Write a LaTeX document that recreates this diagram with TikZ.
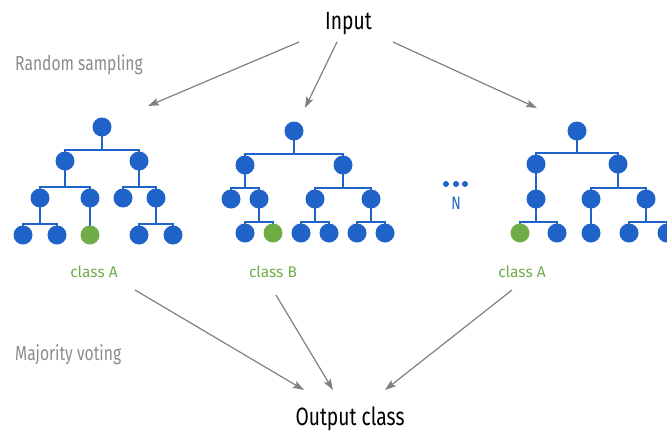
\documentclass[tikz,border=0pt]{standalone}
\usepackage{fontspec}
\setmainfont[FakeStretch=0.77]{Fira Sans}
\newfontfamily\labelfont[FakeStretch=1.0]{Fira Sans}
\usetikzlibrary{arrows.meta,backgrounds}
\definecolor{treeblue}{HTML}{1F63C8}
\definecolor{leafgreen}{HTML}{70AD47}
\definecolor{arrowgray}{HTML}{808080}
\definecolor{notegray}{HTML}{8C8C8C}
\tikzset{
  tnode/.style={circle,fill=treeblue,minimum size=19pt,inner sep=0pt},
  gnode/.style={tnode,fill=leafgreen},
  edge/.style={draw=treeblue,line width=1.6pt},
  flow/.style={draw=arrowgray,line width=1.2pt,-{Stealth[length=11pt,width=7.5pt,inset=2pt]}},
  title/.style={font=\fontsize{25}{27}\selectfont,text=black,inner sep=0pt,anchor=base},
  note/.style={font=\fontsize{20.3}{22}\selectfont,text=notegray,inner sep=0pt,anchor=base west},
  verdict/.style={font=\labelfont\fontsize{15.5}{17}\selectfont,text=leafgreen,inner sep=0pt,anchor=base},
}
% two-child fork: bar sits 11pt above the children
\newcommand{\forktwo}[3]{%
  \coordinate (#2bar) at ([yshift=11pt]#2.center);
  \draw[edge] (#1.center) -- (#1.center |- #2bar);
  \draw[edge] (#2.center) -- (#2bar) -| (#3.center);}
\newcommand{\forkone}[2]{\draw[edge] (#1.center) -- (#2.center);}
\begin{document}
\begin{tikzpicture}[x=1pt,y=-1pt]
\useasboundingbox (0,0) rectangle (667,432);

% labels
\node[title] (input) at (348.5,29.5) {Input};
\node[title] (output) at (350,425) {Output class};
\node[note] (sampling) at (15,70) {Random sampling};
\node[note] (voting) at (15,360) {Majority voting};
\node[verdict] (va) at (94,277) {class A};
\node[verdict] (vb) at (273,277) {class B};
\node[verdict] (vc) at (522,277) {class A};

% first tree
\node[tnode] (a0) at (102,127) {};
\node[tnode] (a1) at (65,161) {};
\node[tnode] (a2) at (139,161) {};
\node[tnode] (a3) at (40,198) {};
\node[tnode] (a4) at (90,198) {};
\node[tnode] (a5) at (123,198) {};
\node[tnode] (a6) at (156,198) {};
\node[tnode] (a7) at (23,235) {};
\node[tnode] (a8) at (57,235) {};
\node[gnode] (a9) at (90,235) {};
\node[tnode] (a10) at (139,235) {};
\node[tnode] (a11) at (173,235) {};

% second tree
\node[tnode] (b0) at (294,131) {};
\node[tnode] (b1) at (245,165) {};
\node[tnode] (b2) at (343,165) {};
\node[tnode] (b3) at (231,199) {};
\node[tnode] (b4) at (259,199) {};
\node[tnode] (b5) at (315,199) {};
\node[tnode] (b6) at (371,199) {};
\node[tnode] (b7) at (245,233) {};
\node[gnode] (b8) at (273,233) {};
\node[tnode] (b9) at (301,233) {};
\node[tnode] (b10) at (329,233) {};
\node[tnode] (b11) at (357,233) {};
\node[tnode] (b12) at (385,233) {};

% last tree
\node[tnode] (c0) at (577,131) {};
\node[tnode] (c1) at (536,164) {};
\node[tnode] (c2) at (618,164) {};
\node[tnode] (c3) at (536,199) {};
\node[tnode] (c4) at (591,199) {};
\node[tnode] (c5) at (646,199) {};
\node[gnode] (c6) at (520,233) {};
\node[tnode] (c7) at (557,233) {};
\node[tnode] (c8) at (591,233) {};
\node[tnode] (c9) at (629,233) {};
\node[tnode] (c10) at (667,233) {};

\begin{pgfonlayer}{background}
  \forktwo{a0}{a1}{a2}
  \forktwo{a1}{a3}{a4}
  \forktwo{a2}{a5}{a6}
  \forktwo{a3}{a7}{a8}
  \forkone{a4}{a9}
  \forktwo{a6}{a10}{a11}
  \forktwo{b0}{b1}{b2}
  \forktwo{b1}{b3}{b4}
  \forktwo{b2}{b5}{b6}
  \forktwo{b4}{b7}{b8}
  \forktwo{b5}{b9}{b10}
  \forktwo{b6}{b11}{b12}
  \forktwo{c0}{c1}{c2}
  \forkone{c1}{c3}
  \forktwo{c2}{c4}{c5}
  \forktwo{c3}{c6}{c7}
  \forkone{c4}{c8}
  \forktwo{c5}{c9}{c10}
\end{pgfonlayer}

% "more trees" marker
\foreach \x/\n in {446/d1,456/d2,465/d3}
  \node[circle,fill=treeblue,minimum size=6pt,inner sep=0pt] (\n) at (\x,184) {};
\node[font=\fontsize{18}{20}\selectfont,text=treeblue,inner sep=0pt,anchor=base] (count) at (456,209) {N};

% sampling arrows
\coordinate (s1) at (299,42);
\coordinate (s2) at (337,42);
\coordinate (s3) at (393,42);
\coordinate (t1) at (148,106);
\coordinate (t2) at (305,108);
\coordinate (t3) at (537,108);
\draw[flow] (s1) -- (t1);
\draw[flow] (s2) -- (t2);
\draw[flow] (s3) -- (t3);

% voting arrows
\coordinate (u1) at (135,290);
\coordinate (u2) at (276,295);
\coordinate (u3) at (512,290);
\coordinate (w1) at (304,390);
\coordinate (w2) at (333,390);
\coordinate (w3) at (385,390);
\draw[flow] (u1) -- (w1);
\draw[flow] (u2) -- (w2);
\draw[flow] (u3) -- (w3);
\end{tikzpicture}
\end{document}
